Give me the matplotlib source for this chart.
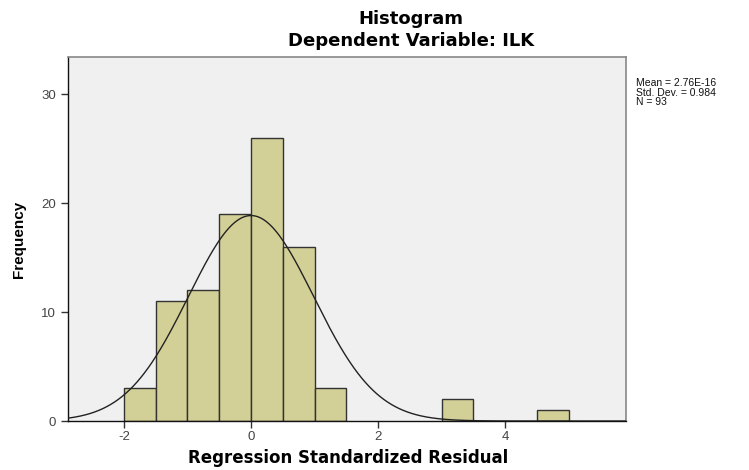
import numpy as np
import matplotlib
matplotlib.use("Agg")
import matplotlib.pyplot as plt

# Data
bin_edges_left = [-2.0, -1.5, -1.0, -0.5, 0.0, 0.5, 1.0, 3.0, 4.5]
counts = [3, 11, 12, 19, 26, 16, 3, 2, 1]
bin_width = 0.5
mean = 2.76e-16
std = 0.984
n = 93
x_ticks = [-2, 0, 2, 4]
y_ticks = [0, 10, 20, 30]

plt.rcParams['font.family'] = ['Liberation Sans', 'DejaVu Sans']
plt.rcParams['axes.unicode_minus'] = False

fig = plt.figure(figsize=(7.49, 4.70), dpi=100)
ax = fig.add_axes([68/749, 1-421/470, (626-68)/749, (421-57)/470])
ax.set_facecolor('#F0F0F0')

ax.bar(bin_edges_left, counts, width=bin_width, align='edge',
       color='#D3D097', edgecolor='#333333', linewidth=1.0, zorder=2)

xs = np.linspace(-2.88, 5.9, 600)
ys = n * bin_width / (std * np.sqrt(2*np.pi)) * np.exp(-0.5*((xs-mean)/std)**2)
ax.plot(xs, ys, color='#222222', linewidth=1.0, zorder=3)

ax.set_xlim(-2.88, 5.9)
ax.set_ylim(0, 33.4)
ax.set_xticks(x_ticks)
ax.set_yticks(y_ticks)
ax.tick_params(axis='both', direction='out', length=5, width=1, colors='#333333',
               labelsize=9.5, labelcolor='#444444')
ax.tick_params(axis='x', pad=2)

for s in ['left', 'bottom']:
    ax.spines[s].set_color('#111111')
    ax.spines[s].set_linewidth(1.0)
for s in ['top', 'right']:
    ax.spines[s].set_color('#888888')
    ax.spines[s].set_linewidth(1.2)

fig.text(348/749, 1-458/470, 'Regression Standardized Residual', ha='center', va='center',
         fontsize=12, fontweight='bold', family=['DejaVu Sans'])
ax.set_ylabel('Frequency', fontsize=11, fontweight='bold', labelpad=11)

fig.text(411/749, 1-19/470, 'Histogram', ha='center', va='center', fontsize=13,
         fontweight='bold', family=['DejaVu Sans'])
fig.text(411/749, 1-41/470, 'Dependent Variable: ILK', ha='center', va='center', fontsize=13,
         fontweight='bold', family=['DejaVu Sans'])

fig.text(636/749, 1-78/470, 'Mean = 2.76E-16\nStd. Dev. = 0.984\nN = 93',
         ha='left', va='top', fontsize=7.5, linespacing=0.95, color='#111111')

fig.savefig('out.png', dpi=100)
